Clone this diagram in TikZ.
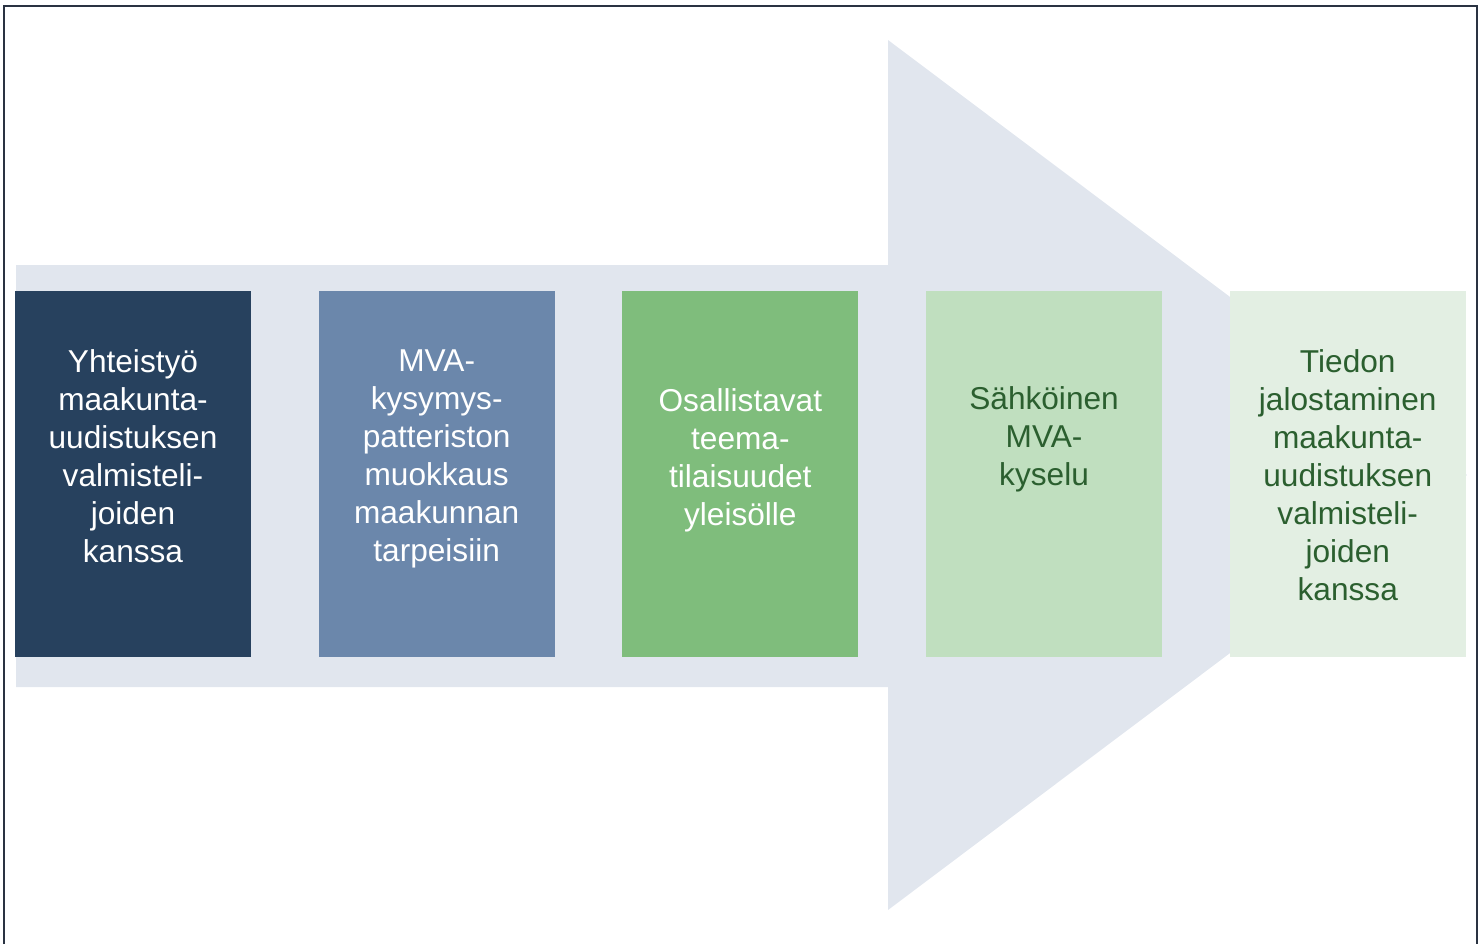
\documentclass[tikz,border=0pt]{standalone}
\usepackage{fontspec}
\setmainfont{Liberation Sans}
\usetikzlibrary{positioning}
\definecolor{arrowgray}{HTML}{E1E6EE}
\definecolor{framedark}{HTML}{2A3342}
\definecolor{stepnavy}{HTML}{27415E}
\definecolor{stepblue}{HTML}{6B87AB}
\definecolor{stepgreen}{HTML}{7FBD7C}
\definecolor{steplight}{HTML}{C0DFBF}
\definecolor{steppale}{HTML}{E3EFE3}
\definecolor{textgreen}{HTML}{2B5F2F}
\tikzset{
  stepbox/.style={fill=#1,minimum width=4.72cm,minimum height=7.32cm,inner sep=0pt,outer sep=0pt},
  steptext/.style={text=#1,align=center,inner sep=0pt,outer sep=0pt,
    font=\fontsize{18}{21.6}\selectfont,execute at begin node=\strut},
}
\begin{document}
\begin{tikzpicture}[x=0.02cm,y=-0.02cm,node distance=1.355cm]

\useasboundingbox (0,0) rectangle (1483,944);
\draw[framedark,line width=1.4pt] (4,944) -- (4,6) -- (1477,6) -- (1477,944);

\fill[arrowgray] (16,265) -- (888,265) -- (888,40) -- (1467,475) -- (888,910)
  -- (888,687) -- (16,687) -- cycle;

\node[stepbox=stepnavy,anchor=north west] (b1) at (15,291) {};
\node[stepbox=stepblue,right=of b1] (b2) {};
\node[stepbox=stepgreen,right=of b2] (b3) {};
\node[stepbox=steplight,right=of b3] (b4) {};
\node[stepbox=steppale,right=of b4] (b5) {};

\node[steptext=white,below=1.17cm of b1.north] (t1)
{Yhteistyö\\maakunta-\\uudistuksen\\valmisteli-\\joiden\\kanssa};
\node[steptext=white,below=1.17cm of b2.north] (t2)
{MVA-\\kysymys-\\patteriston\\muokkaus\\maakunnan\\tarpeisiin};
\node[steptext=white,below=1.95cm of b3.north] (t3)
{Osallistavat\\teema-\\tilaisuudet\\yleisölle};
\node[steptext=textgreen,below=1.91cm of b4.north] (t4)
{Sähköinen\\MVA-\\kyselu};
\node[steptext=textgreen,below=1.17cm of b5.north] (t5)
{Tiedon\\jalostaminen\\maakunta-\\uudistuksen\\valmisteli-\\joiden\\kanssa};

\end{tikzpicture}
\end{document}
